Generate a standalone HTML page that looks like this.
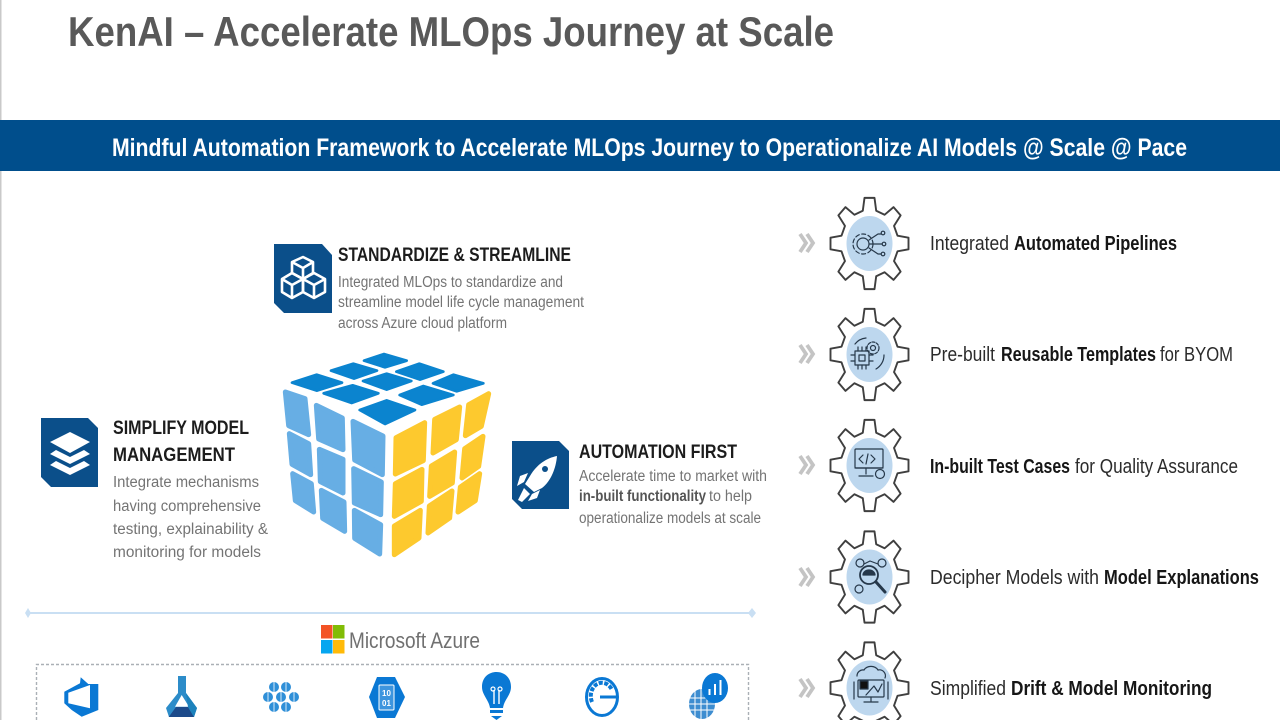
<!DOCTYPE html>
<html lang="en"><head><meta charset="utf-8"><title>KenAI – Accelerate MLOps Journey at Scale</title>
<style>
html,body{margin:0;padding:0;background:#fff;width:1280px;height:720px;overflow:hidden}
svg{display:block}
text{font-family:"Liberation Sans",sans-serif}
.b{font-weight:700}
.h{font-weight:700;font-size:19px;fill:#1c1c1c}
.d{font-size:15.5px;fill:#747474}
.r{font-size:20px;fill:#2b2b2b}
.rb{font-size:20px;fill:#161616;font-weight:700}
.ic{fill:none;stroke:#26384a;stroke-width:1.2;stroke-linejoin:round;stroke-linecap:round}
</style></head><body>
<svg width="1280" height="720" viewBox="0 0 1280 720" xmlns="http://www.w3.org/2000/svg">
<defs>
<g id="gear"><ellipse cx="0" cy="0" rx="23" ry="27.5" fill="#bdd7ee"/>
<polygon transform="scale(1,1.17)" vector-effect="non-scaling-stroke" fill="none" stroke="#3f3f3f" stroke-width="1.9" stroke-linejoin="round" points="-6.7,-28 -5,-39 5,-39 6.7,-28 15.06,-24.54 24.04,-31.11 31.11,-24.04 24.54,-15.06 28,-6.7 39,-5 39,5 28,6.7 24.54,15.06 31.11,24.04 24.04,31.11 15.06,24.54 6.7,28 5,39 -5,39 -6.7,28 -15.06,24.54 -24.04,31.11 -31.11,24.04 -24.54,15.06 -28,6.7 -39,5 -39,-5 -28,-6.7 -24.54,-15.06 -31.11,-24.04 -24.04,-31.11 -15.06,-24.54"/></g>
<g id="chev" fill="none" stroke="#c4c4c4" stroke-width="3.8"><polyline points="-6,-9 0,0 -6,9"/><polyline points="1,-9 7,0 1,9"/></g>
</defs>
<rect width="1280" height="720" fill="#fff"/>
<rect x="0" y="0" width="1.5" height="720" fill="#c9c9c9"/>
<text x="68" y="46" font-size="42" class="b" fill="#595959" textLength="766" lengthAdjust="spacingAndGlyphs">KenAI – Accelerate MLOps Journey at Scale</text>
<rect x="0" y="120" width="1280" height="51" fill="#004e8c"/>
<text x="112" y="156" font-size="25" class="b" fill="#fff" textLength="1075" lengthAdjust="spacingAndGlyphs">Mindful Automation Framework to Accelerate MLOps Journey to Operationalize AI Models @ Scale @ Pace</text>

<!-- tiles -->
<polygon points="274,244 322,244 332,255 332,313 284,313 274,303" fill="#0b4f8a"/>
<g fill="none" stroke="#fff" stroke-width="2.6" stroke-linejoin="round">
<path d="M303,257 L313,262 L313,273 L303,279 L292,273 L292,262 Z M292,262 L303,268 L313,262 M303,268 V279"/>
<path d="M292,273 L303,279 V292 L292,298 L282,292 V279 Z M282,279 L292,285 L303,279 M292,285 V298"/>
<path d="M314,273 L325,279 V292 L314,298 L303,292 V279 Z M303,279 L314,285 L325,279 M314,285 V298"/>
</g>
<polygon points="41,418 88,418 98,428 98,487 51,487 41,477" fill="#0b4f8a"/>
<g fill="#fff"><polygon points="70,432 90,442 70,453 50,442"/><polygon points="56,450 70,457 84,450 90,454 70,464 50,454"/><polygon points="56,461 70,468 84,461 90,465 70,475 50,465"/></g>
<polygon points="512,441 559,441 569,451 569,509 522,509 512,499" fill="#0b4f8a"/>
<g fill="#fff"><path d="M557,456 C547,458 537,464 530,476 L525,484 L534,492 L542,488 C551,481 556,468 557,456 Z"/><path d="M528,473 L520,476 L517,486 L524,482 Z M540,490 L537,498 L528,501 L532,494 Z M524,488 L530,494 L522,502 L518,500 Z"/></g>
<circle cx="545" cy="469" r="3" fill="#0b4f8a"/>

<!-- left text -->
<text x="338" y="261" class="h" textLength="233" lengthAdjust="spacingAndGlyphs">STANDARDIZE &amp; STREAMLINE</text>
<text x="338" y="287" class="d" textLength="225" lengthAdjust="spacingAndGlyphs">Integrated MLOps to standardize and</text>
<text x="338" y="307" class="d" textLength="246" lengthAdjust="spacingAndGlyphs">streamline model life cycle management</text>
<text x="338" y="328" class="d" textLength="169" lengthAdjust="spacingAndGlyphs">across Azure cloud platform</text>
<text x="113" y="434" class="h" textLength="136" lengthAdjust="spacingAndGlyphs">SIMPLIFY MODEL</text>
<text x="113" y="461" class="h" textLength="122" lengthAdjust="spacingAndGlyphs">MANAGEMENT</text>
<text x="113" y="487" class="d" textLength="146" lengthAdjust="spacingAndGlyphs">Integrate mechanisms</text>
<text x="113" y="511" class="d" textLength="148" lengthAdjust="spacingAndGlyphs">having comprehensive</text>
<text x="113" y="534" class="d" textLength="155" lengthAdjust="spacingAndGlyphs">testing, explainability &amp;</text>
<text x="113" y="557" class="d" textLength="148" lengthAdjust="spacingAndGlyphs">monitoring for models</text>
<text x="579" y="458" class="h" textLength="158" lengthAdjust="spacingAndGlyphs">AUTOMATION FIRST</text>
<text x="579" y="481" class="d" textLength="188" lengthAdjust="spacingAndGlyphs">Accelerate time to market with</text>
<text x="579" y="501" class="d b" style="fill:#555" textLength="127" lengthAdjust="spacingAndGlyphs">in-built functionality</text>
<text x="709" y="501" class="d" textLength="43" lengthAdjust="spacingAndGlyphs">to help</text>
<text x="579" y="523" class="d" textLength="182" lengthAdjust="spacingAndGlyphs">operationalize models at scale</text>

<!-- cube -->
<g transform="translate(270,340) scale(.33333)" stroke-linejoin="round" stroke-width="15">
<g fill="#0b84cf" stroke="#0b84cf" stroke-width="8">
<polygon points="342,42 410,62 345,82 282,62"/><polygon points="250,71 321,92 252,116 183,92"/><polygon points="448,71 520,95 450,119 379,95"/><polygon points="350,101 424,123 350,149 279,123"/><polygon points="140,104 216,128 140,152 66,128"/><polygon points="550,104 640,130 560,154 489,130"/><polygon points="248,136 325,160 245,189 161,160"/><polygon points="460,138 550,165 455,194 389,165"/><polygon points="350,181 435,210 345,252 269,210"/>
</g>
<g fill="#67aee4" stroke="#67aee4">
<polygon points="46,156 105,176 116,284 56,257"/><polygon points="139,196 217,234 219,329 146,297"/><polygon points="249,244 339,288 337,404 254,360"/>
<polygon points="58,281 116,311 122,404 66,373"/><polygon points="148,328 219,358 219,459 151,425"/><polygon points="251,386 334,426 332,524 253,489"/>
<polygon points="68,401 124,431 131,516 76,482"/><polygon points="154,451 222,486 224,574 158,535"/><polygon points="253,511 332,554 329,642 254,595"/>
</g>
<g fill="#fdc92e" stroke="#fdc92e">
<polygon points="378,293 464,248 460,362 376,402"/><polygon points="494,238 569,201 559,299 489,339"/><polygon points="596,194 656,161 634,259 586,287"/>
<polygon points="376,431 456,388 454,484 373,529"/><polygon points="484,378 554,336 547,429 479,469"/><polygon points="584,326 639,289 626,379 576,414"/>
<polygon points="373,558 451,511 447,594 373,644"/><polygon points="478,498 546,453 539,534 474,579"/><polygon points="571,441 629,401 616,482 564,516"/>
</g></g>

<!-- azure -->
<line x1="27" y1="613" x2="755" y2="613" stroke="#c9dff3" stroke-width="2"/>
<polygon points="28,608 31,613 28,618 25,613" fill="#c9dff3"/><polygon points="752,608 756,613 752,618 748,613" fill="#c9dff3"/>
<rect x="321" y="625" width="11.5" height="13.5" fill="#f35325"/><rect x="333" y="625" width="11.5" height="13.5" fill="#81bc06"/><rect x="321" y="640" width="11.5" height="13.5" fill="#05a6f0"/><rect x="333" y="640" width="11.5" height="13.5" fill="#ffba08"/>
<text x="349" y="648" font-size="22" fill="#707070" textLength="131" lengthAdjust="spacingAndGlyphs">Microsoft Azure</text>
<path d="M36.500,720 V664.500 H748.500 V720" fill="none" stroke="#aab0b6" stroke-width="1.4" stroke-dasharray="3 2"/>

<!-- azure icons -->
<polygon points="80.700,677.300 88.300,684 98.300,684 98.300,710 81.700,716.700 71.700,710 64.300,703.300 64.300,691.700 80,683.300" fill="#0a78d4"/>
<polygon points="68.300,692.700 90,685 90,708.300 68.300,703.300" fill="#fff"/>
<polygon points="178,676 186,676 186,693 197,708 194,717 169,717 166,708 178,693" fill="#2c8cc9"/>
<polygon points="181.700,695 189,706.700 175,706.700" fill="#fff"/>
<polygon points="168.700,717 176,707 188,707 194,717" fill="#1c4a8a"/>
<polygon points="186,693 197,708 194,717 188,707" fill="#1c82bc"/>
<g fill="#2f8fd8"><ellipse cx="274" cy="687" rx="5" ry="5"/><ellipse cx="286" cy="687" rx="5" ry="5"/><ellipse cx="268" cy="697" rx="5" ry="5"/><ellipse cx="281" cy="697" rx="5" ry="5"/><ellipse cx="294" cy="697" rx="5" ry="5"/><ellipse cx="274" cy="707" rx="5" ry="5"/><ellipse cx="286" cy="707" rx="5" ry="5"/></g>
<path d="M274,682 V692 M286,682 V692 M268,692 V702 M281,692 V702 M294,692 V702 M274,702 V712 M286,702 V712" stroke="#fff" stroke-width=".8"/>
<polygon points="377,677 395,677 405,697 395,718 377,718 369,697" fill="#0a78d4"/>
<rect x="379" y="685" width="15" height="25" rx="1" fill="#3d95de" stroke="#fff" stroke-width="1"/>
<text x="386.500" y="696" font-size="8" text-anchor="middle" fill="#fff" class="b">10</text>
<text x="386.500" y="706" font-size="8" text-anchor="middle" fill="#fff" class="b">01</text>
<path d="M482,687 C482,677 489,672 496.500,672 C504,672 511,677 511,687 C511,695 504,700 503,708 H490 C489,700 482,695 482,687 Z" fill="#0a78d4"/>
<path d="M494,704 V690 M499,704 V690" stroke="#fff" stroke-width="1.4"/>
<circle cx="493" cy="689" r="2" fill="none" stroke="#fff" stroke-width="1.2"/><circle cx="500" cy="689" r="2" fill="none" stroke="#fff" stroke-width="1.2"/>
<rect x="490" y="710" width="13" height="3" fill="#0a78d4"/><polygon points="491,716 502,716 496.500,720" fill="#0a78d4"/>
<ellipse cx="602" cy="697" rx="15.500" ry="18.500" fill="none" stroke="#0a78d4" stroke-width="3"/>
<path d="M592,702 A11,13 0 0 1 612,690" fill="none" stroke="#0a78d4" stroke-width="4" stroke-dasharray="4 1.500"/>
<path d="M600,697 H617" stroke="#0a78d4" stroke-width="3"/>
<ellipse cx="702" cy="704" rx="13" ry="15" fill="#3d8dd0"/>
<path d="M690,698 H715 M689,704 H716 M690,710 H715 M695,690 V718 M701,689 V719 M707,690 V718" stroke="#fff" stroke-width="1"/>
<ellipse cx="715" cy="688" rx="13" ry="15" fill="#0a78d4"/>
<path d="M709.500,695 V689 M715,695 V684 M720.500,695 V680" stroke="#fff" stroke-width="2"/>

<!-- gears and chevrons -->
<use href="#chev" x="806" y="243"/><use href="#chev" x="806" y="354"/><use href="#chev" x="806" y="465"/><use href="#chev" x="806" y="577"/><use href="#chev" x="806" y="688"/>
<use href="#gear" x="869.500" y="243.500"/><use href="#gear" x="869.500" y="354.500"/><use href="#gear" x="869.500" y="465.500"/><use href="#gear" x="869.500" y="577"/><use href="#gear" x="869.500" y="688"/>

<g class="ic"><circle cx="863" cy="244" r="6"/><circle cx="863" cy="244" r="10" stroke-dasharray="4 2.500"/><path d="M869,240 L878,234 H881 M869,244 H882 M869,248 L878,254 H881"/><circle cx="883" cy="233" r="1.800"/><circle cx="884" cy="244" r="1.800"/><circle cx="883" cy="254" r="1.800"/></g>
<g class="ic"><rect x="855" y="351" width="14" height="14"/><rect x="859" y="355" width="6" height="6"/><path d="M858,347 V351 M862,347 V351 M866,347 V351 M858,365 V369 M862,365 V369 M866,365 V369 M851,355 H855 M851,361 H855 M869,355 H873 M869,361 H873"/><circle cx="873" cy="348" r="6" stroke-dasharray="3 1.500"/><circle cx="873" cy="348" r="2.500"/><path d="M855,344 A16,16 0 0 1 866,338 M884,355 A16,16 0 0 1 876,369"/></g>
<g class="ic"><rect x="855" y="449" width="28" height="19" rx="1"/><path d="M863,455 L859,459 L863,463 M868,454 L866,464 M871,455 L875,459 L871,463 M855,468 H883 M866,468 V474 M859,476 H873"/><circle cx="880" cy="474" r="4.500"/></g>
<g class="ic"><circle cx="860" cy="563" r="4"/><circle cx="882" cy="563" r="4"/><circle cx="859" cy="589" r="4"/><circle cx="869" cy="575" r="9" stroke-width="1.800"/><path d="M863,575 A6,5 0 0 1 875,575 Z" fill="#26384a"/><path d="M876,582 L885,592" stroke-width="3"/><path d="M864,564 L870,561 L878,564"/></g>
<g class="ic"><path d="M857,676 A6,6 0 0 1 864,670 A8,7 0 0 1 878,670 A6,6 0 0 1 885,678"/><rect x="858" y="680" width="26" height="17" rx="1"/><rect x="860" y="681" width="8" height="8" fill="#111"/><path d="M866,695 L874,686 L878,692 L882,684 M871,697 V701 M864,702 H878 M854,682 V699 M888,682 V699"/></g>

<!-- right text -->
<text x="930" y="250" class="r" textLength="79" lengthAdjust="spacingAndGlyphs">Integrated</text>
<text x="1014" y="250" class="rb" textLength="163" lengthAdjust="spacingAndGlyphs">Automated Pipelines</text>
<text x="930" y="361" class="r" textLength="65" lengthAdjust="spacingAndGlyphs">Pre-built</text>
<text x="1001" y="361" class="rb" textLength="155" lengthAdjust="spacingAndGlyphs">Reusable Templates</text>
<text x="1160" y="361" class="r" textLength="73" lengthAdjust="spacingAndGlyphs">for BYOM</text>
<text x="930" y="473" class="rb" textLength="140" lengthAdjust="spacingAndGlyphs">In-built Test Cases</text>
<text x="1075" y="473" class="r" textLength="163" lengthAdjust="spacingAndGlyphs">for Quality Assurance</text>
<text x="930" y="584" class="r" textLength="169" lengthAdjust="spacingAndGlyphs">Decipher Models with</text>
<text x="1104" y="584" class="rb" textLength="155" lengthAdjust="spacingAndGlyphs">Model Explanations</text>
<text x="930" y="695" class="r" textLength="76" lengthAdjust="spacingAndGlyphs">Simplified</text>
<text x="1011" y="695" class="rb" textLength="201" lengthAdjust="spacingAndGlyphs">Drift &amp; Model Monitoring</text>
</svg>
</body></html>
